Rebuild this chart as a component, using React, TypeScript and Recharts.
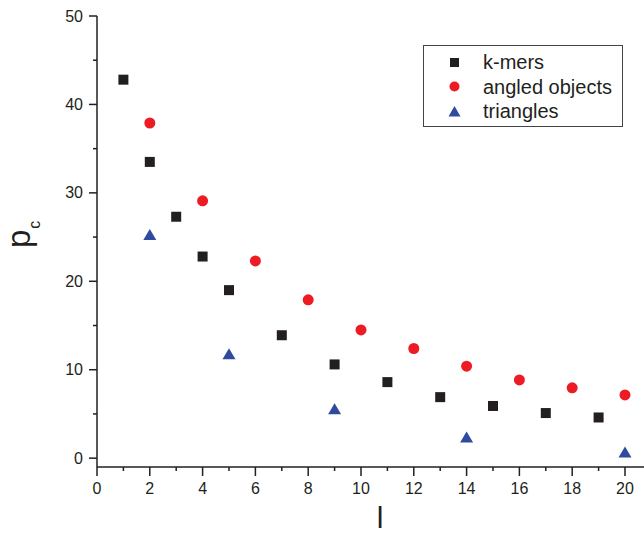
import React from 'react';
import { ScatterChart, Scatter, XAxis, YAxis, Legend, Label } from 'recharts';

// values
const kmerL = [1, 2, 3, 4, 5, 7, 9, 11, 13, 15, 17, 19];
const kmerPc = [42.8, 33.5, 27.3, 22.8, 19.0, 13.9, 10.6, 8.6, 6.9, 5.9, 5.1, 4.6];
const angledL = [2, 4, 6, 8, 10, 12, 14, 16, 18, 20];
const angledPc = [37.9, 29.1, 22.3, 17.9, 14.5, 12.4, 10.4, 8.85, 7.95, 7.15];
const triL = [2, 5, 9, 14, 20];
const triPc = [25.3, 11.8, 5.6, 2.4, 0.7];

const seriesNames = ['k-mers', 'angled objects', 'triangles'];
const xTicks = [0, 1, 2, 3, 4, 5, 6, 7, 8, 9, 10, 11, 12, 13, 14, 15, 16, 17, 18, 19, 20];
const yTicks = [0, 5, 10, 15, 20, 25, 30, 35, 40, 45, 50];

const ink = '#231f20';
const red = '#ed1c24';
const blue = '#2e4b9f';
const font = '"Liberation Sans", Arial, sans-serif';

const kmerData = kmerL.map((l, i) => ({ l, pc: kmerPc[i] }));
const angledData = angledL.map((l, i) => ({ l, pc: angledPc[i] }));
const triData = triL.map((l, i) => ({ l, pc: triPc[i] }));

const SquareDot = (props: any) => (
  <rect x={props.cx - 5} y={props.cy - 5} width={10} height={10} fill={ink} />
);
const CircleDot = (props: any) => <circle cx={props.cx} cy={props.cy} r={5.5} fill={red} />;
const TriangleDot = (props: any) => (
  <polygon
    points={`${props.cx},${props.cy - 5.5} ${props.cx - 6.5},${props.cy + 5.5} ${props.cx + 6.5},${props.cy + 5.5}`}
    fill={blue}
  />
);

const XTick = (props: any) => {
  const { x, y, payload } = props;
  const major = payload.value % 2 === 0;
  return (
    <g>
      <line x1={x} y1={y} x2={x} y2={y + (major ? 9 : 4)} stroke={ink} strokeWidth={1.5} />
      {major && (
        <text x={x} y={y + 21} textAnchor="middle" dominantBaseline="central" fontSize={16} fontFamily={font} fill={ink}>
          {payload.value}
        </text>
      )}
    </g>
  );
};

const YTick = (props: any) => {
  const { x, y, payload } = props;
  const major = payload.value % 10 === 0;
  return (
    <g>
      <line x1={x - (major ? 8 : 4)} y1={y} x2={x} y2={y} stroke={ink} strokeWidth={1.5} />
      {major && (
        <text x={x - 14} y={y} textAnchor="end" dominantBaseline="central" fontSize={16} fontFamily={font} fill={ink}>
          {payload.value}
        </text>
      )}
    </g>
  );
};

const legendIcon = (name: string) => {
  if (name === 'k-mers') return <rect x={26} y={8} width={9} height={9} fill={ink} />;
  if (name === 'angled objects') return <circle cx={30.5} cy={12.5} r={5} fill={red} />;
  return <polygon points="30.5,7 24.5,17.5 36.5,17.5" fill={blue} />;
};

const renderLegend = (props: any) => {
  const payload = [...(props.payload || [])].sort(
    (a: any, b: any) => seriesNames.indexOf(a.value) - seriesNames.indexOf(b.value)
  );
  return (
    <div
      style={{
        width: 200,
        height: 82,
        boxSizing: 'border-box',
        border: '1px solid #444',
        paddingTop: 4,
        background: '#fff',
        fontFamily: font,
      }}
    >
      {payload.map((entry: any) => (
        <div key={entry.value} style={{ display: 'flex', alignItems: 'center', height: 24.5 }}>
          <svg width={59} height={25} style={{ display: 'block' }}>
            {legendIcon(entry.value)}
          </svg>
          <span style={{ fontSize: 20, color: ink, lineHeight: '24px' }}>{entry.value}</span>
        </div>
      ))}
    </div>
  );
};

export default function App() {
  return (
    <div style={{ position: 'absolute', left: 0, top: 0, width: 644, height: 535, background: '#fff' }}>
      <ScatterChart width={644} height={535} margin={{ top: 16, right: 0, bottom: 67, left: 96 }}>
        <XAxis
          type="number"
          dataKey="l"
          domain={[0, 20.72]}
          ticks={xTicks}
          interval={0}
          allowDataOverflow
          height={1}
          tickLine={false}
          tickSize={0}
          tickMargin={0}
          tick={<XTick />}
          axisLine={{ stroke: ink, strokeWidth: 1.5 }}
        >
          <Label
            content={() => (
              <text x={380} y={528} textAnchor="middle" fontSize={30} fontFamily={font} fill={ink}>
                l
              </text>
            )}
          />
        </XAxis>
        <YAxis
          type="number"
          dataKey="pc"
          domain={[-1, 50]}
          ticks={yTicks}
          interval={0}
          allowDataOverflow
          width={1}
          tickLine={false}
          tickSize={0}
          tickMargin={0}
          tick={<YTick />}
          axisLine={{ stroke: ink, strokeWidth: 1.5 }}
        >
          <Label
            content={() => (
              <text x={30} y={248} transform="rotate(-90 30 248)" fontFamily={font} fill={ink}>
                <tspan fontSize={33}>p</tspan>
                <tspan fontSize={16} dx={1} dy={10}>c</tspan>
              </text>
            )}
          />
        </YAxis>
        <Legend
          layout="vertical"
          align="center"
          verticalAlign="middle"
          content={renderLegend}
          wrapperStyle={{ left: 423, top: 45, width: 200, height: 82 }}
        />
        <Scatter name="k-mers" data={kmerData} fill={ink} shape={<SquareDot />} isAnimationActive={false} />
        <Scatter name="angled objects" data={angledData} fill={red} shape={<CircleDot />} isAnimationActive={false} />
        <Scatter name="triangles" data={triData} fill={blue} shape={<TriangleDot />} isAnimationActive={false} />
      </ScatterChart>
    </div>
  );
}
